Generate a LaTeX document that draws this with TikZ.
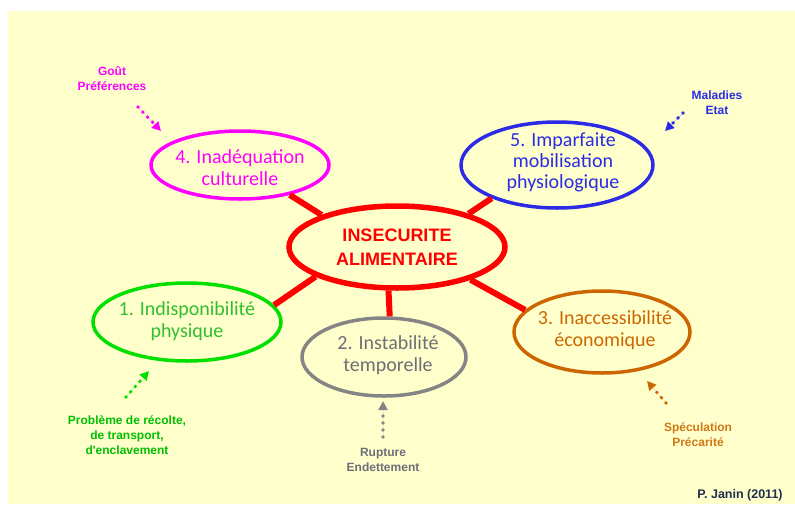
\documentclass[tikz,border=0pt]{standalone}
\usepackage{fontspec}
\setmainfont{Carlito}
\newfontfamily\arialf{Liberation Sans}
\usetikzlibrary{shapes.geometric,arrows.meta}
\definecolor{cream}{HTML}{FFFFCC}
\definecolor{redc}{HTML}{FF0000}
\definecolor{pinkc}{HTML}{FF00FF}
\definecolor{bluec}{HTML}{2B2BE6}
\definecolor{greenc}{HTML}{00E000}
\definecolor{greent}{HTML}{2FBF2F}
\definecolor{grayc}{HTML}{858585}
\definecolor{grayt}{HTML}{6E6E78}
\definecolor{orangec}{HTML}{CC6600}
\definecolor{oranget}{HTML}{D07818}
\definecolor{navy}{HTML}{1F2F4F}
\begin{document}
\begin{tikzpicture}[x=1pt,y=-1pt,
  ell/.style={ellipse, draw, inner sep=0pt, line width=3.5pt},
  sat/.style={font=\fontsize{20}{22}\selectfont, align=center, inner sep=0pt},
  lab/.style={font=\arialf\bfseries\fontsize{12}{15}\selectfont, align=center, inner sep=0pt},
  dots/.style={line width=3.8pt, line cap=round, dash pattern=on 0pt off 7pt, -{Triangle[length=9pt,width=9pt]}},
  link/.style={draw=redc, line width=6pt}]
\fill[white] (0,0) rectangle (795,504);
\fill[cream] (8,11) rectangle (795,504);
\useasboundingbox (0,0) rectangle (795,504);

% ellipses
\node[ell, draw=redc, line width=5.5pt, minimum width=216pt, minimum height=82pt] (c) at (397,247) {};
\node[ell, draw=pinkc, minimum width=178pt, minimum height=68pt] (p) at (240,165) {};
\node[ell, draw=bluec, minimum width=192pt, minimum height=86pt] (b) at (557,165) {};
\node[ell, draw=greenc, minimum width=188pt, minimum height=78pt] (g) at (187,322) {};
\node[ell, draw=grayc, minimum width=164pt, minimum height=78pt] (y) at (384,357) {};
\node[ell, draw=orangec, minimum width=176pt, minimum height=82pt] (o) at (602,332) {};

% texts
\node[font=\arialf\bfseries\fontsize{18}{24}\selectfont, align=center, text=redc, inner sep=0pt] (ct) at (c) {INSECURITE\\ALIMENTAIRE};
\node[sat, text=pinkc] (pt) at (240,168) {4. Inadéquation\\culturelle};
\node[sat, text=bluec, font=\fontsize{20}{21}\selectfont] (bt) at (563,162) {5. Imparfaite\\mobilisation\\physiologique};
\node[sat, text=greent] (gt) at (187,321) {1. Indisponibilité\\physique};
\node[sat, text=grayt] (yt) at (388,355) {2. Instabilité\\temporelle};
\node[sat, text=orangec] (ot) at (605,330) {3. Inaccessibilité\\économique};

% red links
\draw[link] (c.157) -- (p.-31);
\draw[link] (c.25) -- (b.207);
\draw[link] (c.200) -- (g.11);
\draw[link] (c.-101) -- (y.82.5);
\draw[link] (c.-24) -- (o.164);

% labels
\node[lab, text=pinkc] (pl) at (112,79) {Goût\\Préférences};
\node[lab, text=bluec] (bl) at (717,103) {Maladies\\Etat};
\node[lab, text=greenc!85!black] (gl) at (127,435) {Problème de récolte,\\de transport,\\d'enclavement};
\node[lab, text=grayt] (yl) at (383,460) {Rupture\\Endettement};
\node[lab, text=oranget] (ol) at (698,435) {Spéculation\\Précarité};
\node[font=\arialf\bfseries\fontsize{12.5}{15}\selectfont, text=navy, inner sep=0pt] (jl) at (740,495) {P. Janin (2011)};

% dotted arrows
\coordinate (pa) at (138,107); \coordinate (pb) at (161,131);
\coordinate (ba) at (683,113); \coordinate (bb) at (665,131);
\coordinate (ga) at (126,397); \coordinate (gb) at (149,371);
\coordinate (ya) at (383,437); \coordinate (yb) at (383,401);
\coordinate (oa) at (666,403); \coordinate (ob) at (647,381);
\draw[dots, draw=pinkc, fill=pinkc] (pa) -- (pb);
\draw[dots, draw=bluec, fill=bluec] (ba) -- (bb);
\draw[dots, draw=greenc, fill=greenc] (ga) -- (gb);
\draw[dots, draw=grayc, fill=grayc] (ya) -- (yb);
\draw[dots, draw=orangec, fill=orangec] (oa) -- (ob);
\end{tikzpicture}
\end{document}
